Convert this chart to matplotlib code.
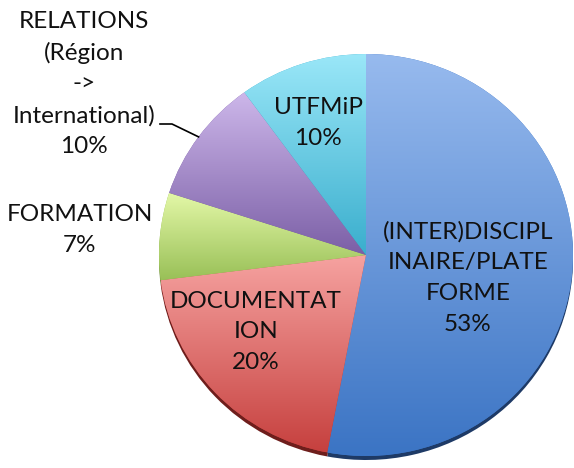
import numpy as np
import matplotlib.pyplot as plt
from matplotlib.colors import LinearSegmentedColormap

# slice data (clockwise from 12 o'clock)
categories = ['(INTER)DISCIPL\nINAIRE/PLATE\nFORME', 'DOCUMENTAT\nION', 'FORMATION',
              'RELATIONS\n(Région\n->\nInternational)', 'UTFMiP']
shares = [53, 20, 7, 10, 10]
pct_labels = ['53%', '20%', '7%', '10%', '10%']

# light (top) / dark (bottom) shades for each slice
top_colors = ['#97baee', '#f6a3a1', '#e4f8a8', '#cdb7ea', '#9ae7f8']
bottom_colors = ['#3b74c4', '#c6403e', '#99c057', '#7b5fa6', '#3aaecd']
rim_colors = ['#1e3a66', '#6e1e1c', '#5c7a2c', '#4a3770', '#1f6a80']

W, H = 574, 468
cx, cy = 366, 255      # pie centre, pixels
rx, ry = 207, 201      # pie radii, pixels
k = ry / rx


def px(x, y):
    return x, (H - y) / k


plt.rcParams['font.family'] = ['Lato', 'DejaVu Sans']
fig = plt.figure(figsize=(W / 100, H / 100), dpi=100)
ax = fig.add_axes([0, 0, 1, 1])

# thin dark rim under the pie (3D look)
ax.pie(shares, colors=rim_colors, startangle=90, counterclock=False,
       center=px(cx, cy + 4), radius=rx, frame=True,
       wedgeprops=dict(linewidth=0, zorder=1))

wedges, _ = ax.pie(shares, colors=bottom_colors, startangle=90, counterclock=False,
                   center=px(cx, cy), radius=rx, frame=True,
                   wedgeprops=dict(linewidth=0, zorder=2))

# vertical gradient inside each wedge
for w, c0, c1 in zip(wedges, top_colors, bottom_colors):
    bb = w.get_path().get_extents()
    cmap = LinearSegmentedColormap.from_list('g', [c1, c0])
    grad = np.linspace(0, 1, 256).reshape(-1, 1)
    im = ax.imshow(grad, cmap=cmap, origin='lower', aspect='auto',
                   extent=[bb.x0, bb.x1, bb.y0, bb.y1], zorder=3,
                   interpolation='bilinear')
    im.set_clip_path(w)

# labels (pixel positions of the text block centres)
label_pos = [(468, 278), (256, 332), (80, 230), (84, 84), (318, 123)]
for cat, pct, (lx, ly) in zip(categories, pct_labels, label_pos):
    ax.text(*px(lx, ly), cat + '\n' + pct, ha='center', va='center',
            fontsize=17.5, linespacing=1.58, color='#111111', zorder=5)

# leader line for the RELATIONS slice
w = wedges[3]
mid = np.deg2rad((w.theta1 + w.theta2) / 2)
ex, ey = cx + rx * np.cos(mid), cy - ry * np.sin(mid)
xs, ys = zip(px(160, 124), px(172, 124), px(ex, ey))
ax.plot(xs, ys, color='black', lw=1.2, zorder=5)

ax.set_xlim(0, W)
ax.set_ylim(0, H / k)
ax.set_aspect('auto')
ax.axis('off')

fig.savefig('out.png', dpi=100)
